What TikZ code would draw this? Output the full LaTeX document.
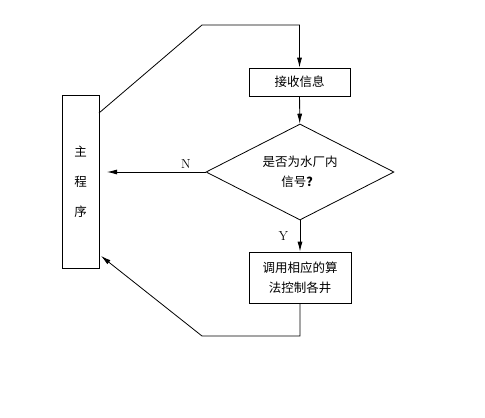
\documentclass[tikz,border=0pt]{standalone}
\usepackage{fontspec}
\newfontfamily\cjk{Noto Sans CJK SC}
\usetikzlibrary{shapes.geometric,arrows.meta,positioning}

\begin{document}
\begin{tikzpicture}[x=1pt,y=-1pt,
    box/.style={draw, line width=0.8pt, inner sep=0pt, align=center,
        font=\cjk\fontsize{12.5}{20}\selectfont},
    link/.style={line width=0.8pt, -{Latex[length=10pt,width=5pt]}},
    mark label/.style={font=\fontsize{13}{15}\selectfont}]
    \useasboundingbox (0,0) rectangle (485,418);

    % boxes
    \node[box, minimum width=37pt, minimum height=173pt] (main) at (80.5,181.5) {主\\[10pt]程\\[10pt]序};
    \node[box, minimum width=101pt, minimum height=28pt] (recv) at (299.5,82) {接收信息};
    \node[box, diamond, minimum width=188pt, minimum height=96pt, aspect=1.96] (check) at (300,172) {是否为水厂内\\信号\textbf{？}};
    \node[box, minimum width=102pt, minimum height=51pt] (ctrl) at (300,277.5) {调用相应的算\\法控制各井};

    % corners of the return lines
    \coordinate (top start) at (99,113);
    \coordinate (top bend) at (202,25);
    \coordinate (no end) at (107,172);
    \coordinate (low bend) at (202,336);
    \coordinate (low end) at (101,256);

    % connectors
    \draw[link] (top start) -- (top bend) -| (recv.north);
    \draw[link] (recv) -- (check);
    \draw[link] (check.west) -- node[mark label, above, pos=0.2] (no) {N} (no end);
    \draw[link] (check) -- node[mark label, left=8pt] (yes) {Y} (ctrl);
    \draw[link] (ctrl.south) |- (low bend) -- (low end);
\end{tikzpicture}
\end{document}
